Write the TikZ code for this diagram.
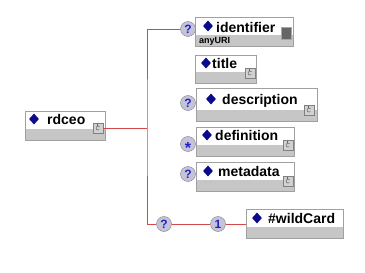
\documentclass[tikz,border=0pt]{standalone}
\usepackage{fontspec}
\setmainfont{Liberation Sans}
\usetikzlibrary{shapes.geometric}

\definecolor{boxline}{RGB}{160,160,160}
\definecolor{band}{RGB}{198,198,198}
\definecolor{wire}{RGB}{214,72,72}
\definecolor{occfill}{RGB}{196,196,214}
\definecolor{occline}{RGB}{128,128,146}
\definecolor{occtext}{RGB}{32,32,200}
\definecolor{markblue}{RGB}{10,10,140}

\begin{document}
\begin{tikzpicture}
    [
        x = 1pt, y = -1pt,
        every node/.style = {inner sep = 0},
        element/.style = {
            draw = boxline,
            fill = white,
            anchor = north west,
            minimum height = 29,
            path picture = {
                \fill[band] ([yshift=11.5pt]path picture bounding box.south west)
                    rectangle (path picture bounding box.south east);
            }
        },
        elemname/.style = {anchor = base west, font = \fontsize{14}{14}\selectfont\bfseries},
        dia/.style = {diamond, fill = markblue, minimum width = 10, minimum height = 11},
        icon/.style = {
            draw = gray, fill = band!80!white,
            minimum width = 10, minimum height = 10,
            path picture = {
                \draw[black!60, line width = 0.5pt]
                    ([shift={(1.6pt,1.2pt)}]path picture bounding box.center)
                    arc (40:310:2pt);
                \draw[black!60, line width = 0.5pt]
                    ([shift={(-0.6pt,1.6pt)}]path picture bounding box.center) -- ++(0,2.2pt);
            }
        },
        occ/.style = {
            circle, draw = occline, fill = occfill, minimum size = 15,
            text = occtext, font = \fontsize{12}{12}\selectfont\bfseries
        },
        link/.style = {draw = wire, line width = 1pt},
    ]

    \useasboundingbox (0,0) rectangle (365,273);

    % element boxes
    \node[element, minimum width = 80]  (rdceo)       at (25,111)  {};
    \node[element, minimum width = 98]  (identifier)  at (195,17)  {};
    \node[element, minimum width = 61, minimum height = 28] (title) at (195,55) {};
    \node[element, minimum width = 121, minimum height = 33] (description) at (196,88) {};
    \node[element, minimum width = 98]  (definition)  at (196,127) {};
    \node[element, minimum width = 98]  (metadata)    at (196,162) {};
    \node[element, minimum width = 97]  (wildcard)    at (246,209) {};

    % names
    \node[dia] (rdceo-dia) at (34,119) {};
    \node[elemname] (rdceo-name) at (47,124) {rdceo};
    \node[dia] (identifier-dia) at (208,26) {};
    \node[elemname] (identifier-name) at (216,32) {identifier};
    \node[anchor = base west, font = \fontsize{9}{9}\selectfont\bfseries]
        (identifier-type) at (199,44) {anyURI};
    \node[dia] (title-dia) at (206,63) {};
    \node[elemname] (title-name) at (212,68) {title};
    \node[dia] (description-dia) at (211,99) {};
    \node[elemname] (description-name) at (222,104) {description};
    \node[dia] (definition-dia) at (207,135) {};
    \node[elemname] (definition-name) at (215,140) {definition};
    \node[dia] (metadata-dia) at (208,171) {};
    \node[elemname] (metadata-name) at (218,176) {metadata};
    \node[dia] (wildcard-dia) at (257,218) {};
    \node[elemname] (wildcard-name) at (268,223) {\#wildCard};

    % type icons
    \node[draw = gray!70, fill = black!60, minimum width = 10, minimum height = 12]
        (identifier-icon) at (286,33) {};
    \node[icon] (rdceo-icon)       at (98,128)  {};
    \node[icon] (title-icon)       at (250,73)  {};
    \node[icon] (description-icon) at (309,110) {};
    \node[icon] (definition-icon)  at (288,145) {};
    \node[icon] (metadata-icon)    at (288,181) {};

    % occurrence markers
    \node[occ] (identifier-occ)  at (188,29)  {?};
    \node[occ] (description-occ) at (188,103) {?};
    \node[occ] (definition-occ)  at (188,144)
        {\raisebox{-9pt}[0pt][0pt]{\fontsize{16}{16}\selectfont *}};
    \node[occ] (metadata-occ)    at (188,174) {?};
    \node[occ] (any-occ)         at (164,224) {?};
    \node[occ] (wildcard-occ)    at (218,224) {1};

    % connectors
    \coordinate (fork) at (147,128);
    \draw[link] (rdceo-icon.east |- fork) -- (fork);
    \draw[link] (identifier-occ) -| (fork) |- (any-occ);
    \draw[link] (any-occ) -- (wildcard-occ) -- (wildcard.west |- wildcard-occ);
\end{tikzpicture}
\end{document}
